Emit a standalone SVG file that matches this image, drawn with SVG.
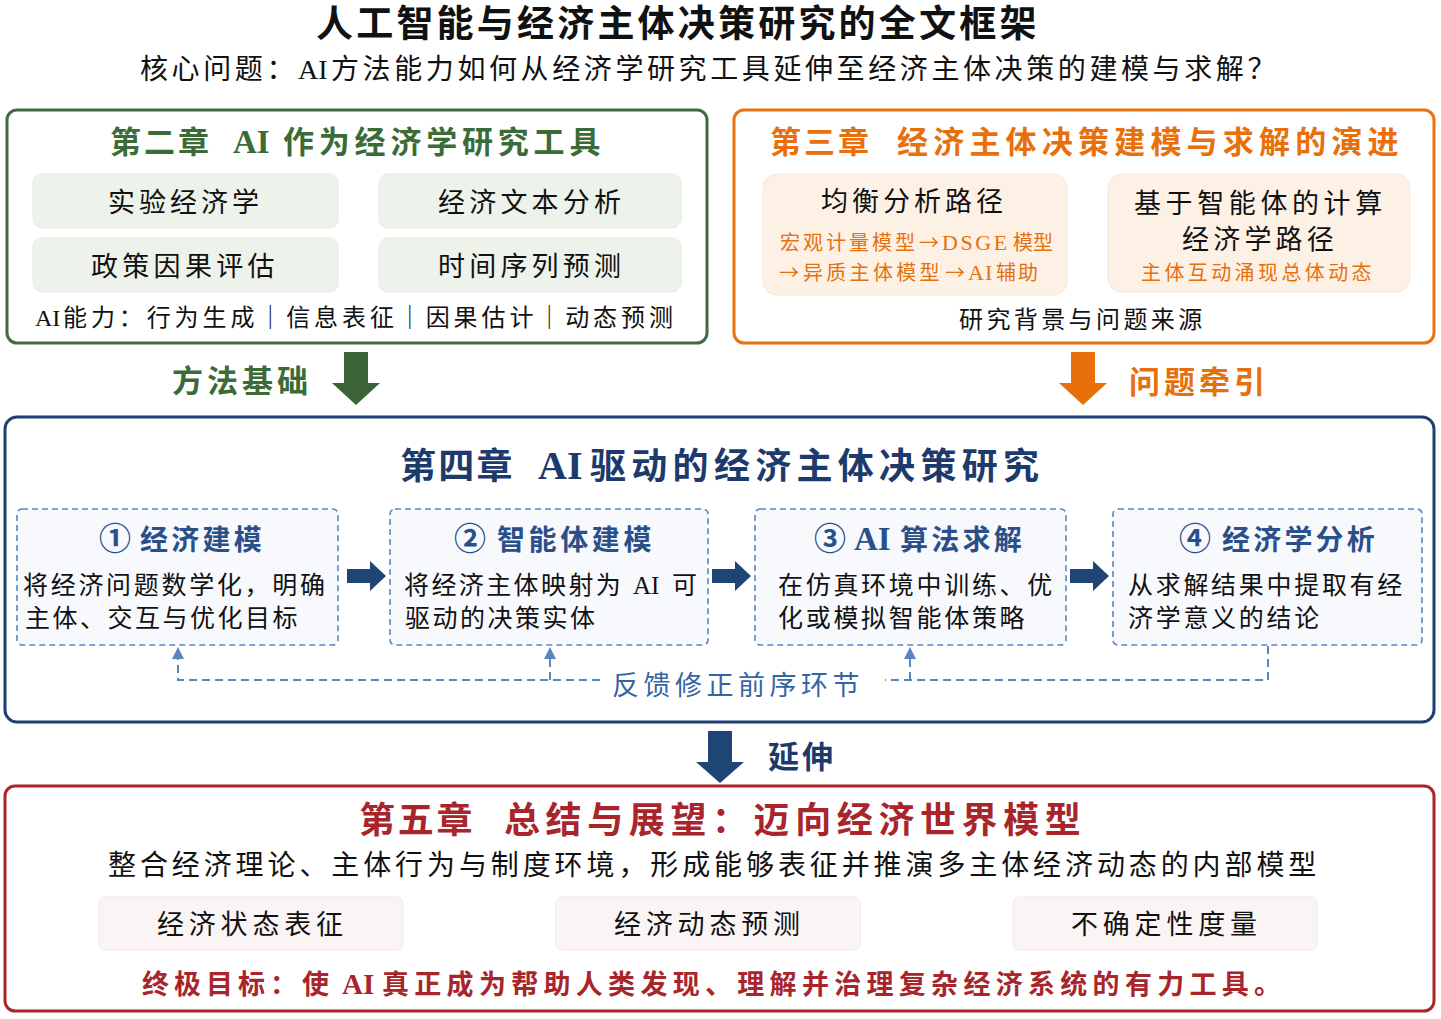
<svg xmlns="http://www.w3.org/2000/svg" width="1441" height="1019" viewBox="0 0 1441 1019">
<defs>
<style>
text{font-family:"Liberation Serif","Noto Sans CJK SC",serif;fill:#111;}
.b{font-weight:bold;}
.green{fill:#3b6b37;}
.orange{fill:#e8700c;}
.navy{fill:#1c3a6b;}
.step{fill:#2b5089;}
.red{fill:#a8262b;}
.fbl{fill:#3565a3;}
.arr{font-family:"Noto Sans CJK SC",sans-serif;}
.chbox{fill:#fff;stroke-width:3;}
.gsub{fill:#edf2ea;stroke:#e4ebe0;stroke-width:1;}
.osub{fill:#fdf1e6;stroke:#f6e6d8;stroke-width:1;}
.rsub{fill:#faf5f4;stroke:#efe9e7;stroke-width:1;}
.stepbox{fill:#f7f9fd;stroke:#5a86c0;stroke-width:1.6;stroke-dasharray:6,4;}
.fb{fill:none;stroke:#5a86c0;stroke-width:2;stroke-dasharray:8,5;}
</style>
</defs>
<rect width="1441" height="1019" fill="#fff"/>

<g id="header">
<text x="316" y="37" font-size="37" class="b" letter-spacing="3.2">人工智能与经济主体决策研究的全文框架</text>
<text y="79" font-size="28"><tspan x="140" letter-spacing="3.6">核心问题：</tspan><tspan x="298" letter-spacing="0">AI</tspan><tspan x="331" letter-spacing="3.6">方法能力如何从经济学研究工具延伸至经济主体决策的建模与求解？</tspan></text>
</g>

<g id="chapter2">
<rect class="chbox" x="7" y="110" width="700" height="233" rx="10" stroke="#3e6b40"/>
<text y="153" class="b green" font-size="31"><tspan x="110" letter-spacing="3">第二章</tspan><tspan x="233" font-size="33" letter-spacing="0">AI</tspan><tspan x="283" letter-spacing="4.8">作为经济学研究工具</tspan></text>
<rect class="gsub" x="33" y="174" width="305" height="54" rx="9"/>
<rect class="gsub" x="379" y="174" width="302" height="54" rx="9"/>
<rect class="gsub" x="33" y="238" width="305" height="54" rx="9"/>
<rect class="gsub" x="379" y="238" width="302" height="54" rx="9"/>
<text x="108" y="212" font-size="27" letter-spacing="4">实验经济学</text>
<text x="438" y="212" font-size="27" letter-spacing="4.2">经济文本分析</text>
<text x="91" y="276" font-size="27" letter-spacing="4.3">政策因果评估</text>
<text x="438" y="276" font-size="27" letter-spacing="4.2">时间序列预测</text>
<text y="326" font-size="24"><tspan x="35" letter-spacing="0">AI</tspan><tspan x="63" letter-spacing="3.9">能力：行为生成｜信息表征｜因果估计｜动态预测</tspan></text>
</g>

<g id="chapter3">
<rect class="chbox" x="734" y="110" width="700" height="233" rx="10" stroke="#e8720c"/>
<text y="153" class="b orange" font-size="31"><tspan x="770" letter-spacing="3">第三章</tspan><tspan x="897" letter-spacing="5.2">经济主体决策建模与求解的演进</tspan></text>
<rect class="osub" x="763" y="174" width="304" height="121" rx="14"/>
<rect class="osub" x="1108" y="174" width="302" height="118" rx="14"/>
<text x="821" y="211" font-size="27" letter-spacing="4">均衡分析路径</text>
<text y="250" font-size="20" class="orange"><tspan x="780" letter-spacing="3">宏观计量模型</tspan><tspan x="919" class="arr" font-size="20" letter-spacing="0">→</tspan><tspan x="942" font-size="22" letter-spacing="2.6">DSGE</tspan><tspan x="1013" letter-spacing="0">模型</tspan></text>
<text y="280" font-size="20" class="orange"><tspan x="779" class="arr" letter-spacing="0">→</tspan><tspan x="803" letter-spacing="3.3">异质主体模型</tspan><tspan x="945" class="arr" letter-spacing="0">→</tspan><tspan x="968" font-size="22" letter-spacing="1">AI</tspan><tspan x="996" letter-spacing="2">辅助</tspan></text>
<text x="1134" y="213" font-size="27" letter-spacing="4.6">基于智能体的计算</text>
<text x="1182" y="249" font-size="27" letter-spacing="4.2">经济学路径</text>
<text x="1141" y="280" font-size="20" class="orange" letter-spacing="3.4">主体互动涌现总体动态</text>
<text x="959" y="328" font-size="24" letter-spacing="3.4">研究背景与问题来源</text>
</g>

<g id="label-method">
<text x="172" y="392" font-size="31" class="b green" letter-spacing="4">方法基础</text>
</g>
<g id="label-problem">
<text x="1129" y="393" font-size="31" class="b orange" letter-spacing="4">问题牵引</text>
</g>

<g id="chapter4">
<rect class="chbox" x="5" y="417" width="1429" height="305" rx="12" stroke="#1f3f6e"/>
<text y="479" class="b navy" font-size="36"><tspan x="400" letter-spacing="2.3">第四章</tspan><tspan x="538" font-size="40" letter-spacing="0">AI</tspan><tspan x="590" letter-spacing="5.3">驱动的经济主体决策研究</tspan></text>
</g>

<g id="step1">
<rect class="stepbox" x="17" y="509" width="321" height="136" rx="5"/>
<text y="550" font-size="28" class="b step"><tspan x="99" class="arr" font-size="32" letter-spacing="0">①</tspan><tspan x="140" letter-spacing="3.25">经济建模</tspan></text>
<text x="23" y="594" font-size="25" letter-spacing="2.7">将经济问题数学化，明确</text>
<text x="25" y="627" font-size="25" letter-spacing="2.5">主体、交互与优化目标</text>
</g>
<g id="step2">
<rect class="stepbox" x="390" y="509" width="318" height="136" rx="5"/>
<text y="550" font-size="28" class="b step"><tspan x="454" class="arr" font-size="32" letter-spacing="0">②</tspan><tspan x="497" letter-spacing="3.6">智能体建模</tspan></text>
<text y="594" font-size="25"><tspan x="404" letter-spacing="2.4">将经济主体映射为</tspan><tspan x="633" letter-spacing="0">AI</tspan><tspan x="672">可</tspan></text>
<text x="405" y="627" font-size="25" letter-spacing="2.5">驱动的决策实体</text>
</g>
<g id="step3">
<rect class="stepbox" x="755" y="509" width="311" height="136" rx="5"/>
<text y="550" font-size="28" class="b step"><tspan x="814" class="arr" font-size="32" letter-spacing="0">③</tspan><tspan x="854" font-size="33" letter-spacing="0">AI</tspan><tspan x="900" letter-spacing="3.25">算法求解</tspan></text>
<text x="778" y="594" font-size="25" letter-spacing="2.7">在仿真环境中训练、优</text>
<text x="778" y="627" font-size="25" letter-spacing="2.7">化或模拟智能体策略</text>
</g>
<g id="step4">
<rect class="stepbox" x="1113" y="509" width="309" height="136" rx="5"/>
<text y="550" font-size="28" class="b step"><tspan x="1179" class="arr" font-size="32" letter-spacing="0">④</tspan><tspan x="1222" letter-spacing="3.2">经济学分析</tspan></text>
<text x="1128" y="594" font-size="25" letter-spacing="2.7">从求解结果中提取有经</text>
<text x="1128" y="627" font-size="25" letter-spacing="2.7">济学意义的结论</text>
</g>
<g id="label-feedback">
<text x="612" y="695" font-size="27" class="fbl" letter-spacing="4.5">反馈修正前序环节</text>
</g>
<g id="label-extend">
<text x="768" y="768" font-size="31" class="b navy" letter-spacing="3">延伸</text>
</g>

<g id="chapter5">
<rect class="chbox" x="5" y="786" width="1429" height="225" rx="10" stroke="#a8262b"/>
<text y="833" class="b red" font-size="36"><tspan x="359" letter-spacing="2.7">第五章</tspan><tspan x="504" letter-spacing="5.6">总结与展望：迈向经济世界模型</tspan></text>
<text x="108" y="875" font-size="28" letter-spacing="3.9">整合经济理论、主体行为与制度环境，形成能够表征并推演多主体经济动态的内部模型</text>
<rect class="rsub" x="99" y="897" width="304" height="53" rx="6"/>
<rect class="rsub" x="556" y="897" width="304" height="53" rx="6"/>
<rect class="rsub" x="1013" y="897" width="304" height="53" rx="6"/>
<text x="157" y="934" font-size="27" letter-spacing="4.8">经济状态表征</text>
<text x="614" y="934" font-size="27" letter-spacing="4.8">经济动态预测</text>
<text x="1071" y="934" font-size="27" letter-spacing="4.8">不确定性度量</text>
<text y="994" class="b red" font-size="27"><tspan x="142" letter-spacing="5">终极目标：使</tspan><tspan x="342" font-size="29" letter-spacing="0">AI</tspan><tspan x="382" letter-spacing="5.3">真正成为帮助人类发现、理解并治理复杂经济系统的有力工具。</tspan></text>
</g>

<g id="connectors">
<polygon points="344,352 368,352 368,383 380,383 356,405 332,383 344,383" fill="#3a6337"/>
<polygon points="1071,352 1095,352 1095,383 1107,383 1083,405 1059,383 1071,383" fill="#e8700c"/>
<polygon points="708,731 732,731 732,762 744,762 720,783 696,762 708,762" fill="#1f4577"/>
<polygon points="347,569 370,569 370,561 386,576 370,591 370,583 347,583" fill="#1f4577"/>
<polygon points="712,569 735,569 735,561 751,576 735,591 735,583 712,583" fill="#1f4577"/>
<polygon points="1070,569 1093,569 1093,561 1109,576 1093,591 1093,583 1070,583" fill="#1f4577"/>
<path class="fb" d="M1268,646 V680 H885"/>
<path class="fb" d="M600,680 H178 V658"/>
<path class="fb" d="M550,680 V658"/>
<path class="fb" d="M910,680 V658"/>
<polygon points="178,647 172,659 184,659" fill="#5a86c0"/>
<polygon points="550,647 544,659 556,659" fill="#5a86c0"/>
<polygon points="910,647 904,659 916,659" fill="#5a86c0"/>
</g>
</svg>
